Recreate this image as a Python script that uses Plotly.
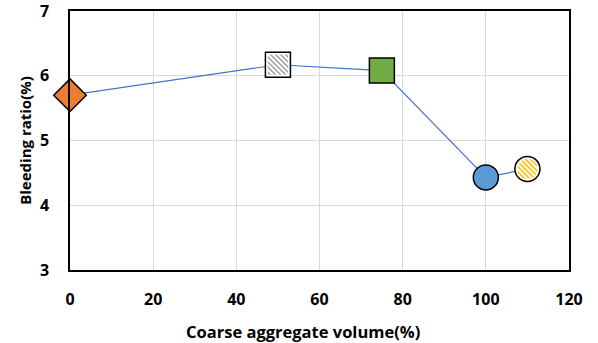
import base64
import plotly.graph_objects as go

# Data
x_vals = [0, 50, 75, 100, 110]
y_vals = [5.70, 6.17, 6.08, 4.43, 4.56]
symbols = ["diamond", "square", "square", "circle", "circle"]
fills = ["#ED7D31", "#FFFFFF", "#70AD47", "#5B9BD5", "#FFFFFF"]
hatch = [None, "#A6A6A6", None, None, "#FFC000"]
x_ticks = [0, 20, 40, 60, 80, 100, 120]
y_ticks = [3, 4, 5, 6, 7]
x_title = "Coarse aggregate volume(%)"
y_title = "Bleeding ratio(%)"

W, H = 598, 343
ml, mr, mt, mb = 70, 29, 11, 73
px_per_x = (W - ml - mr) / 120.0
px_per_y = (H - mt - mb) / 4.0
MSIZE = 25
FONT = "Open Sans"

fig = go.Figure()
fig.add_trace(go.Scatter(
    x=x_vals, y=y_vals, mode="lines",
    line=dict(color="#4472C4", width=1.2),
    showlegend=False, hoverinfo="skip", cliponaxis=False))
fig.add_trace(go.Scatter(
    x=x_vals, y=y_vals, mode="markers",
    marker=dict(symbol=symbols, color=fills, size=MSIZE,
                line=dict(color="#000000", width=1.5)),
    showlegend=False, cliponaxis=False))


def hatch_svg(color, shape):
    s = 100
    clip = ('<circle cx="50" cy="50" r="44"/>' if shape == "circle"
            else '<rect x="6" y="6" width="88" height="88"/>')
    lines = "".join(
        f'<line x1="{o}" y1="-10" x2="{o+120}" y2="110" stroke="{color}" stroke-width="7"/>'
        for o in range(-130, 130, 22))
    svg = (f'<svg xmlns="http://www.w3.org/2000/svg" width="{s}" height="{s}" viewBox="0 0 100 100">'
           f'<defs><clipPath id="c">{clip}</clipPath></defs>'
           f'<g clip-path="url(#c)">{lines}</g></svg>')
    return "data:image/svg+xml;base64," + base64.b64encode(svg.encode()).decode()


images = []
for xv, yv, sym, hc in zip(x_vals, y_vals, symbols, hatch):
    if hc is None:
        continue
    sx = (MSIZE - 2) / px_per_x
    sy = (MSIZE - 2) / px_per_y
    images.append(dict(source=hatch_svg(hc, sym), xref="x", yref="y",
                       x=xv, y=yv, sizex=sx, sizey=sy,
                       xanchor="center", yanchor="middle",
                       sizing="stretch", layer="above"))

fig.update_layout(
    width=W, height=H,
    margin=dict(l=ml, r=mr, t=mt, b=mb, autoexpand=False),
    paper_bgcolor="white", plot_bgcolor="white",
    images=images,
    font=dict(family=FONT, color="#000000"),
    annotations=[dict(text=f"<b>{x_title}</b>", xref="paper", yref="paper",
                      x=0.467, y=-0.236, xanchor="center", yanchor="middle",
                      showarrow=False,
                      font=dict(family=FONT, size=16.5, color="#000000"))],
    xaxis=dict(range=[0, 120], tickvals=x_ticks, automargin=False,
               ticklabeloverflow="allow",
               ticktext=[f"<b>{t}</b>" for t in x_ticks], showgrid=True,
               gridcolor="#D9D9D9", gridwidth=1, showline=True,
               linecolor="#000000", linewidth=1.5, mirror=True,
               zeroline=False, ticks="", ticklabelstandoff=14,
               tickfont=dict(family=FONT, size=16, color="#000000")),
    yaxis=dict(range=[3, 7], tickvals=y_ticks, automargin=False,
               ticklabeloverflow="allow",
               ticktext=[f"<b>{t}</b>" for t in y_ticks], showgrid=True,
               gridcolor="#D9D9D9", gridwidth=1, showline=True,
               linecolor="#000000", linewidth=1.5, mirror=True,
               zeroline=False, ticks="", ticklabelstandoff=16,
               tickfont=dict(family=FONT, size=16, color="#000000"),
               title=dict(text=f"<b>{y_title}</b>", standoff=5,
                          font=dict(family=FONT, size=15, color="#000000"))),
)

fig.write_html("out.html")
